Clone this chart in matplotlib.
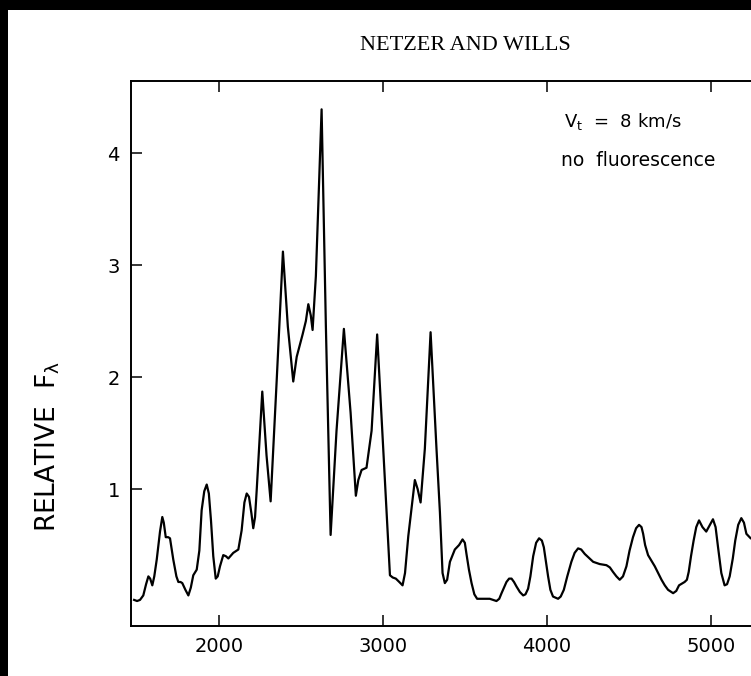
import numpy as np
import matplotlib
matplotlib.use('Agg')
import matplotlib.pyplot as plt
from matplotlib.patches import Rectangle

plt.rcParams['mathtext.default'] = 'regular'

# model spectrum, wavelength [A] and relative flux
wavelength = [1482, 1500, 1518, 1538, 1555, 1569, 1580, 1593, 1605, 1620, 1640, 1654, 1663,
              1675, 1690, 1701, 1721, 1740, 1752, 1765, 1776, 1795, 1813, 1828, 1843, 1864,
              1880, 1894, 1910, 1925, 1938, 1951, 1965, 1980, 1992, 2006, 2026, 2042, 2057,
              2087, 2118, 2138, 2155, 2169, 2183, 2198, 2209, 2220, 2230, 2264, 2290, 2315,
              2352, 2390, 2420, 2453, 2474, 2510, 2530, 2545, 2560, 2571, 2591, 2626, 2652,
              2681, 2717, 2762, 2803, 2835, 2850, 2870, 2900, 2931, 2965, 3002, 3043, 3060,
              3079, 3100, 3120, 3135, 3155, 3195, 3212, 3230, 3256, 3291, 3327, 3348, 3364,
              3378, 3392, 3409, 3439, 3465, 3486, 3500, 3510, 3525, 3541, 3558, 3575, 3612,
              3652, 3693, 3710, 3724, 3754, 3770, 3785, 3800, 3815, 3836, 3856, 3870, 3886,
              3900, 3917, 3935, 3953, 3970, 3982, 3995, 4008, 4022, 4038, 4069, 4085, 4104,
              4125, 4150, 4170, 4191, 4210, 4232, 4283, 4323, 4364, 4385, 4404, 4425, 4445,
              4465, 4486, 4505, 4526, 4545, 4563, 4578, 4588, 4600, 4618, 4659, 4700, 4720,
              4740, 4771, 4790, 4807, 4841, 4855, 4866, 4880, 4896, 4912, 4929, 4950, 4973,
              4995, 5014, 5030, 5045, 5065, 5085, 5100, 5116, 5135, 5150, 5168, 5187, 5203,
              5218, 5244, 5260]
flux = [0.01, 0.00, 0.01, 0.05, 0.15, 0.22, 0.20, 0.14, 0.22, 0.37, 0.62, 0.75, 0.70,
        0.57, 0.57, 0.56, 0.37, 0.22, 0.17, 0.17, 0.16, 0.10, 0.05, 0.12, 0.23, 0.28,
        0.45, 0.81, 0.98, 1.04, 0.96, 0.72, 0.40, 0.20, 0.22, 0.31, 0.41, 0.40, 0.38,
        0.43, 0.46, 0.63, 0.88, 0.96, 0.93, 0.78, 0.65, 0.75, 0.99, 1.87, 1.30, 0.89,
        1.97, 3.12, 2.45, 1.96, 2.18, 2.38, 2.50, 2.65, 2.55, 2.42, 2.90, 4.39, 2.46,
        0.59, 1.52, 2.43, 1.68, 0.94, 1.08, 1.17, 1.19, 1.52, 2.38, 1.36, 0.23, 0.21,
        0.20, 0.17, 0.14, 0.25, 0.58, 1.08, 1.00, 0.88, 1.36, 2.40, 1.36, 0.79, 0.25,
        0.16, 0.19, 0.35, 0.46, 0.50, 0.55, 0.52, 0.42, 0.28, 0.16, 0.06, 0.02, 0.02,
        0.02, 0.00, 0.02, 0.07, 0.17, 0.20, 0.20, 0.17, 0.13, 0.08, 0.05, 0.06, 0.11,
        0.22, 0.40, 0.52, 0.56, 0.54, 0.48, 0.35, 0.22, 0.10, 0.04, 0.02, 0.04, 0.10,
        0.22, 0.35, 0.43, 0.47, 0.46, 0.42, 0.35, 0.33, 0.32, 0.30, 0.26, 0.22, 0.19,
        0.22, 0.31, 0.45, 0.57, 0.65, 0.68, 0.66, 0.60, 0.50, 0.41, 0.31, 0.19, 0.14,
        0.10, 0.07, 0.09, 0.14, 0.17, 0.19, 0.26, 0.40, 0.54, 0.66, 0.72, 0.66, 0.62,
        0.68, 0.73, 0.66, 0.48, 0.25, 0.14, 0.15, 0.22, 0.38, 0.54, 0.68, 0.74, 0.70,
        0.60, 0.56, 0.55]

x_ticks = [2000, 3000, 4000, 5000]
y_ticks = [1, 2, 3, 4]

W, H = 751, 676
fig = plt.figure(figsize=(W / 100, H / 100), dpi=100)
fig.patch.set_facecolor('black')
# white page inside the dark scan border (kept behind the axes)
fig.patches.append(Rectangle((8 / W, 0), 1, (H - 10) / H, transform=fig.transFigure,
                             facecolor='white', edgecolor='none', zorder=-5))

ax = fig.add_axes([131 / W, 50 / H, (809 - 131) / W, 545 / H])
ax.set_facecolor('white')
ax.plot(wavelength, flux, color='black', lw=1.6, solid_joinstyle='round')

ax.set_xlim(1463, 5600)
ax.set_ylim(-0.223, 4.643)
ax.set_xticks(x_ticks)
ax.set_yticks(y_ticks)
ax.tick_params(axis='both', direction='in', length=8, width=1.1, pad=8,
               labelsize=14, top=True, right=False, labeltop=False)
for s in ax.spines.values():
    s.set_linewidth(1.4)

# y label sits lower than the axes centre
fig.text(48 / W, 1 - 447 / H, r'RELATIVE  F$_\lambda$', fontsize=19, rotation=90,
         ha='center', va='center')

fig.text(465 / W, 1 - 45 / H, 'NETZER AND WILLS', family='Liberation Serif',
         fontsize=16, ha='center', va='center')
fig.text(564 / W, 1 - 122 / H, r'V$_\mathrm{t}$  =  8 km/s', fontsize=13,
         ha='left', va='center')
fig.text(561 / W, 1 - 160 / H, 'no  fluorescence', fontsize=13.5,
         ha='left', va='center')

fig.savefig('out.png', dpi=100)
